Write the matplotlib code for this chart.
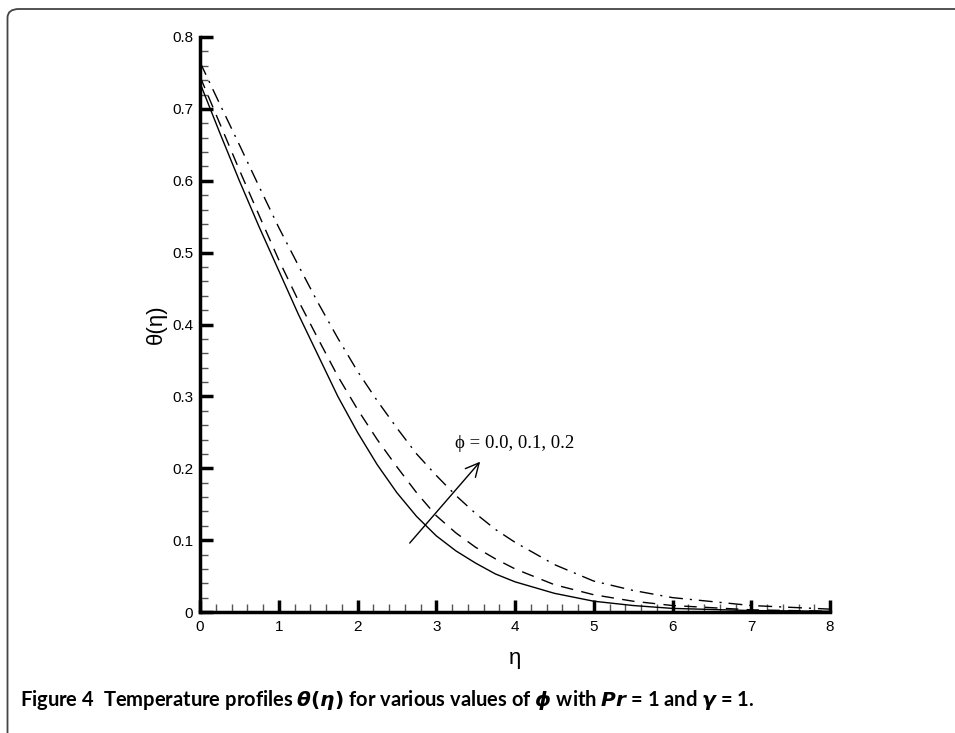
import matplotlib.pyplot as plt
from matplotlib.patches import FancyBboxPatch
from matplotlib.ticker import MultipleLocator

# eta grid and theta profiles
eta = [0, 0.25, 0.5, 0.75, 1, 1.25, 1.5, 1.75, 2, 2.25, 2.5, 2.75, 3, 3.25, 3.5, 3.75, 4, 4.5, 5, 5.5, 6, 7, 8]
theta_00 = [0.736, 0.667, 0.600, 0.536, 0.475, 0.414, 0.357, 0.300, 0.250, 0.205, 0.166, 0.133, 0.106, 0.085, 0.068,
	0.053, 0.042, 0.026, 0.015, 0.009, 0.005, 0.002, 0.001]
theta_01 = [0.745, 0.680, 0.615, 0.552, 0.490, 0.433, 0.380, 0.328, 0.282, 0.240, 0.202, 0.166, 0.134, 0.110, 0.090,
	0.074, 0.060, 0.038, 0.024, 0.015, 0.009, 0.003, 0.001]
theta_02 = [0.765, 0.707, 0.650, 0.592, 0.535, 0.482, 0.430, 0.381, 0.335, 0.294, 0.256, 0.220, 0.190, 0.162, 0.137,
	0.115, 0.097, 0.066, 0.043, 0.030, 0.020, 0.009, 0.004]

x_ticks = [0, 1, 2, 3, 4, 5, 6, 7, 8]
y_ticks = [0, 0.1, 0.2, 0.3, 0.4, 0.5, 0.6, 0.7, 0.8]
y_ticklabels = ['0', '0.1', '0.2', '0.3', '0.4', '0.5', '0.6', '0.7', '0.8']

plt.rcParams['font.family'] = ['Liberation Sans', 'DejaVu Sans']
plt.rcParams['mathtext.fontset'] = 'dejavusans'

fig = plt.figure(figsize=(9.55, 7.33), dpi=100)
ax = fig.add_axes([200 / 955, 1 - 612 / 733, 630 / 955, 575 / 733])

ax.plot(eta, theta_00, color='black', lw=1.0, ls='-')
ax.plot(eta, theta_01, color='black', lw=1.0, ls=(0, (9, 6)))
ax.plot(eta, theta_02, color='black', lw=1.0, ls=(0, (10, 5, 1.5, 5)))

ax.set_xlim(0, 8)
ax.set_ylim(0, 0.8)
ax.set_xticks(x_ticks)
ax.set_xticklabels([str(t) for t in x_ticks])
ax.set_yticks(y_ticks)
ax.set_yticklabels(y_ticklabels)
ax.xaxis.set_minor_locator(MultipleLocator(0.2))
ax.yaxis.set_minor_locator(MultipleLocator(0.02))
ax.tick_params(which='major', direction='in', length=9, width=2.5, labelsize=11)
ax.tick_params(axis='x', which='major', pad=6)
ax.tick_params(axis='y', which='major', pad=5)
ax.tick_params(which='minor', direction='in', length=6, width=1, color='#555555')
for s in ['top', 'right']:
	ax.spines[s].set_visible(False)
for s in ['left', 'bottom']:
	ax.spines[s].set_linewidth(2.5)

ax.set_xlabel('η', fontsize=16, labelpad=10)
ax.set_ylabel('θ(η)', fontsize=16, labelpad=4)

ax.annotate('', xy=(3.58, 0.212), xytext=(2.64, 0.093),
	arrowprops=dict(arrowstyle='->', color='black', lw=1.0, mutation_scale=24))
ax.text(3.24, 0.228, 'ϕ = 0.0, 0.1, 0.2', family=['Liberation Serif', 'DejaVu Serif'], fontsize=13.5)

# caption
fig.text(20 / 955, 1 - 706 / 733,
	'Figure 4  Temperature profiles $\\boldsymbol{\\theta(\\eta)}$ for various values of $\\boldsymbol{\\phi}$ '
	'with $\\boldsymbol{Pr}$ = 1 and $\\boldsymbol{\\gamma}$ = 1.',
	family=['Lato', 'DejaVu Sans'], fontweight='bold', fontsize=14.5, va='baseline')

# rounded frame
frame = FancyBboxPatch((7.5 / 955, -20 / 733), 1.1, (733 - 9 + 20) / 733,
	boxstyle='round,pad=0,rounding_size=0.012', transform=fig.transFigure,
	fill=False, edgecolor='#444444', lw=1.3, clip_on=False)
fig.patches.append(frame)

fig.savefig('out.png', dpi=100)
